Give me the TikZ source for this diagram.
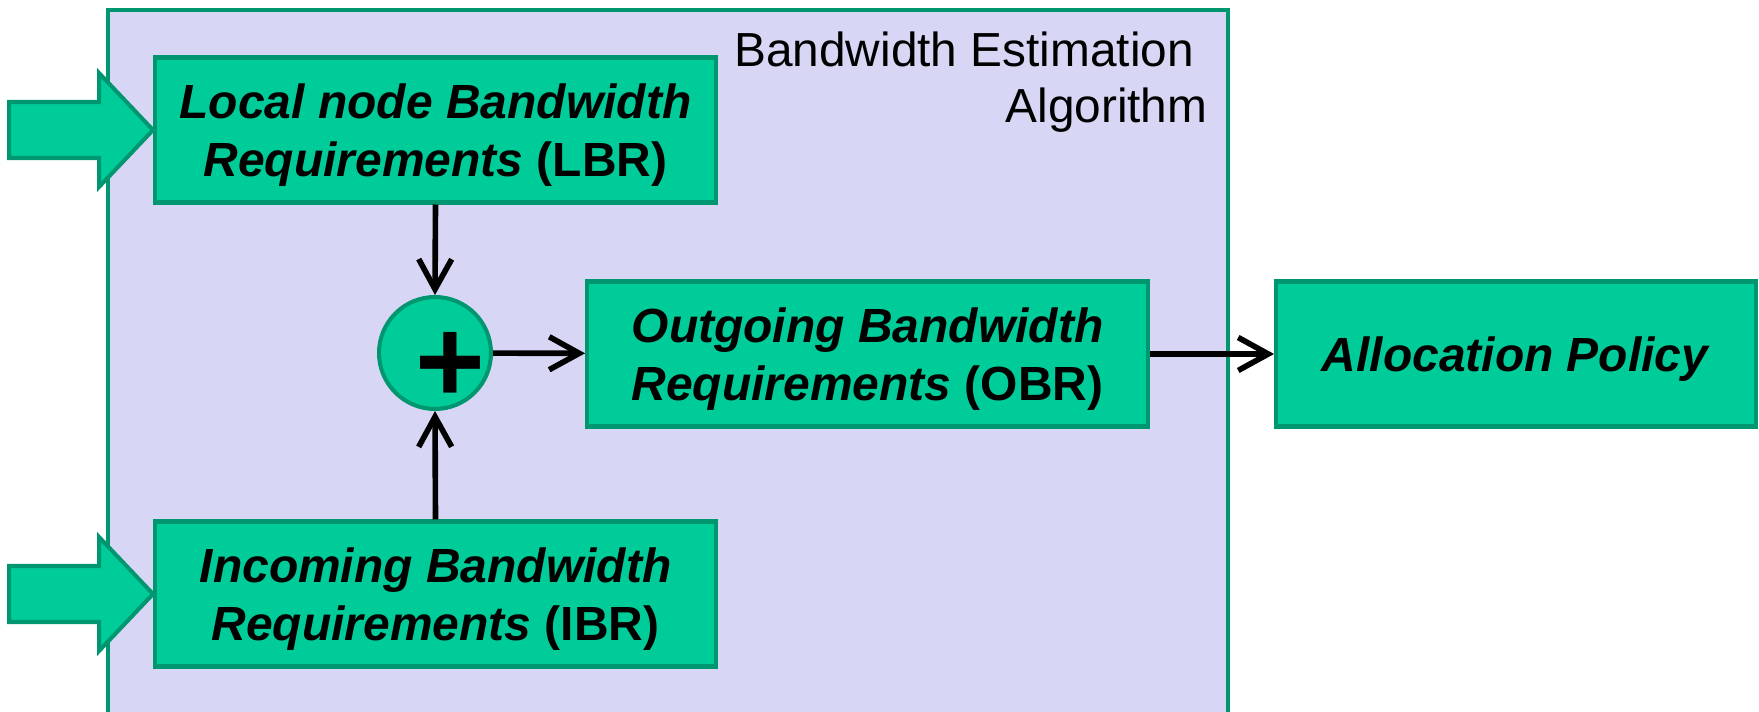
\documentclass[tikz,border=0pt]{standalone}
\usepackage{fontspec}
\setmainfont{Liberation Sans}
\usepackage{xcolor}
\usetikzlibrary{calc,positioning,arrows.meta}

\definecolor{boxgreen}{RGB}{0,204,153}
\definecolor{edgegreen}{RGB}{0,150,112}
\definecolor{lavender}{RGB}{215,215,245}

\begin{document}
\begin{tikzpicture}[
    x=0.02cm, y=-0.02cm,
    >={Straight Barb[length=6mm,width=6.6mm]},
    node distance=2.2cm and 1.7cm,
    frame/.style={draw=edgegreen, fill=lavender, line width=2.1pt, rectangle,
                  minimum width=22.4cm, minimum height=14.12cm, inner sep=0pt},
    ttl/.style={align=right, inner sep=0pt, font=\fontsize{27.2}{31.9}\selectfont},
    blk/.style={draw=edgegreen, fill=boxgreen, line width=2.3pt, rectangle,
                align=center, minimum width=11.22cm, minimum height=2.9cm,
                inner sep=1pt, text depth=-3pt,
                font=\fontsize{27.3}{33}\selectfont\bfseries},
    sum/.style={draw=edgegreen, fill=boxgreen, line width=2.3pt, circle,
                minimum size=2.24cm, inner sep=0pt,
                font=\fontsize{68}{68}\selectfont\bfseries},
    inarrow/.style={draw=edgegreen, fill=boxgreen, line width=2.3pt, line join=miter},
    flow/.style={draw=black, line width=3.2pt}
  ]
    \useasboundingbox (0,0) rectangle (1759,712);

    % outer block with its caption
    \node[frame] (est) at (668,363) {};
    \node[ttl, anchor=north east] (esttitle) at ($(est.north east)+(-22,23)$)
      {Bandwidth Estimation\hspace*{0.27cm}\\Algorithm};

    % inner blocks
    \node[blk] (lbr) at (435.5,130) {\textit{Local node Bandwidth}\\\textit{Requirements} (LBR)};
    \node[blk] (ibr) at (435.5,594) {\textit{Incoming Bandwidth}\\\textit{Requirements} (IBR)};
    \node[sum] (sum) at (435,353)
      {\raisebox{-9.9mm}[0pt][0pt]{\makebox[0pt]{\hspace{6.2mm}+}}};
    \node[blk] (obr) at (867.5,354) {\textit{Outgoing Bandwidth}\\\textit{Requirements} (OBR)};
    \node[blk, minimum width=9.6cm] (alloc) at (1516,354) {\textit{Allocation Policy}};

    % inputs from the left
    \path[inarrow] (lbr.west) -- ++(-54,-57) -- ++(0,29) -- ++(-90,0) -- ++(0,56)
      -- ++(90,0) -- ++(0,29) -- cycle;
    \path[inarrow] (ibr.west) -- ++(-54,-57) -- ++(0,29) -- ++(-90,0) -- ++(0,56)
      -- ++(90,0) -- ++(0,29) -- cycle;

    \draw[flow,->] (lbr.south) -- (sum.north);
    \draw[flow,->] (ibr.north) -- (sum.south);
    \draw[flow,->] (sum) -- (obr);
    \draw[flow,->] (obr) -- (alloc);
  \end{tikzpicture}
\end{document}
